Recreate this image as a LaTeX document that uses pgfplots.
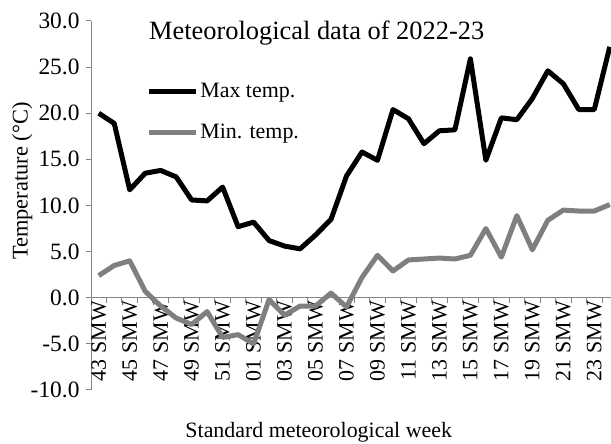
\documentclass[border=0pt]{standalone}
\usepackage{fontspec}
\setmainfont{Liberation Serif}
\usepackage{pgfplots}
\pgfplotsset{compat=1.18}
\definecolor{axgray}{RGB}{134,134,134}
\definecolor{mingray}{RGB}{127,127,127}
\begin{document}
\begin{tikzpicture}
\useasboundingbox (0,0) rectangle (611bp,444bp);
\begin{axis}[
  at={(91bp,54bp)}, anchor=south west,
  scale only axis, width=520bp, height=369bp,
  xmin=-0.5, xmax=33.08, ymin=-10, ymax=30,
  axis y line*=left, axis x line*=middle,
  axis line style={axgray, line width=1bp},
  every tick/.style={axgray, line width=1bp},
  tick align=outside,
  major tick length=5bp,
  ytick={-10,-5,...,30},
  tick label style={font=\fontsize{22}{26}\selectfont, black},
  yticklabel style={font=\fontsize{23.5}{27}\selectfont, xshift=-3bp, /pgf/number format/fixed, /pgf/number format/fixed zerofill, /pgf/number format/precision=1, /pgf/number format/assume math mode=true},
  xtick={-0.5,0.5,...,33.5}, xticklabels={},
  extra x ticks={0,2,...,32},
  extra x tick labels={43 SMW,45 SMW,47 SMW,49 SMW,51 SMW,01 SMW,03 SMW,05 SMW,07 SMW,09 SMW,11 SMW,13 SMW,15 SMW,17 SMW,19 SMW,21 SMW,23 SMW},
  extra x tick style={major tick length=0pt, tick style={draw=none}, xticklabel style={rotate=90, anchor=east, font=\fontsize{22}{26}\selectfont}},
  title={Meteorological data of 2022-23},
  title style={at={(axis description cs:0.434,0.935)}, anchor=base, font=\fontsize{26.5}{30}\selectfont},
  xlabel={Standard meteorological week},
  xlabel style={at={(axis description cs:0.438,-0.13)}, anchor=base, font=\fontsize{22}{26}\selectfont},
  ylabel={Temperature (°C)},
  ylabel style={at={(axis description cs:-0.122,0.566)}, anchor=base, font=\fontsize{22.5}{26}\selectfont},
  legend style={at={(axis description cs:0.107,0.835)}, anchor=north west, draw=none, fill=none,
    font=\fontsize{22}{26}\selectfont, row sep=22bp, inner sep=0pt, nodes={inner sep=1.5bp}},
  legend cell align=left,
  legend image code/.code={\draw[#1] (0bp,0bp) -- (47bp,0bp);},
]
\addplot[black, line width=5bp, line join=round] coordinates {
(0,20.0) (1,18.9) (2,11.7) (3,13.5) (4,13.8) (5,13.1) (6,10.6) (7,10.5) (8,12.0) (9,7.7) (10,8.2)
(11,6.2) (12,5.6) (13,5.3) (14,6.8) (15,8.5) (16,13.2) (17,15.8) (18,14.9) (19,20.4) (20,19.4) (21,16.7) (22,18.1)
(23,18.2) (24,25.9) (25,14.9) (26,19.5) (27,19.3) (28,21.6) (29,24.6) (30,23.2) (31,20.4) (32,20.4) (33,27.2)
};
\addlegendentry{Max temp.}
\addplot[mingray, line width=5bp, line join=round] coordinates {
(0,2.4) (1,3.5) (2,4.0) (3,0.7) (4,-0.9) (5,-2.2) (6,-2.9) (7,-1.5) (8,-4.3) (9,-4.0) (10,-5.0)
(11,-0.2) (12,-1.9) (13,-0.9) (14,-0.9) (15,0.5) (16,-1.0) (17,2.2) (18,4.6) (19,2.9) (20,4.1) (21,4.2) (22,4.3)
(23,4.2) (24,4.6) (25,7.5) (26,4.4) (27,8.9) (28,5.2) (29,8.4) (30,9.5) (31,9.4) (32,9.4) (33,10.1)
};
\addlegendentry{Min. temp.}
\end{axis}
\end{tikzpicture}
\end{document}
